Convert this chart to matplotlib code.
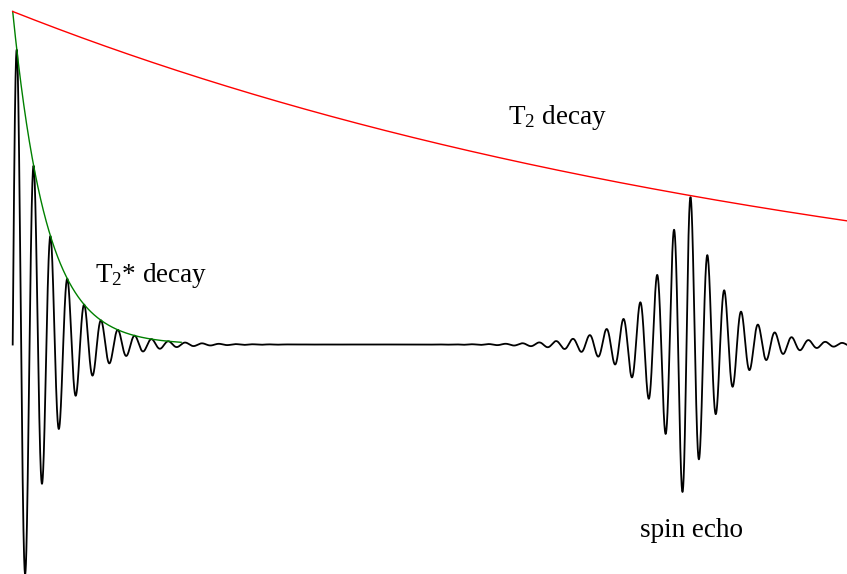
import numpy as np
import matplotlib
matplotlib.use("Agg")
import matplotlib.pyplot as plt

plt.rcParams["font.family"] = ["Liberation Serif", "DejaVu Serif"]
plt.rcParams["mathtext.fontset"] = "custom"
plt.rcParams["mathtext.rm"] = "Liberation Serif"
plt.rcParams["mathtext.it"] = "Liberation Serif:italic"

# Spin-echo parameters (time in ms, amplitude normalised to the initial signal)
t2 = 50.0          # transverse relaxation time
t2_star = 2.0      # effective dephasing time
echo_time = 40.0   # TE
freq = 1.0         # precession frequency, cycles per ms
echo_amp = 0.50    # echo envelope amplitude at TE
fid_env_end = 10.0 # extent of the drawn T2* envelope
t_max = 49.6

labels = ["T$_2$ decay", "T$_2$* decay", "spin echo"]

t = np.linspace(0.0, t_max, 40000)
fid = np.exp(-t / t2_star) * np.sin(2 * np.pi * freq * t)
echo = echo_amp * np.exp(-np.abs(t - echo_time) / t2_star) * np.sin(2 * np.pi * freq * (t - echo_time))
signal = fid + echo

t2_env = np.exp(-t / t2)
tg = t[t <= fid_env_end]
t2s_env = np.exp(-tg / t2_star)

fig = plt.figure(figsize=(8.47, 5.74), dpi=100)
ax = fig.add_axes([0, 0, 1, 1])
ax.set_xlim(-0.754, 49.53)
ax.set_ylim(-0.689, 1.0345)
ax.axis("off")

ax.plot(t, signal, color="black", lw=1.3, solid_joinstyle="round")
ax.plot(tg, t2s_env, color="#008000", lw=1.0)
ax.plot(t, t2_env, color="#ff0000", lw=1.0)

W, H = 847.0, 574.0
fs = 19.5
fig.text(508 / W, 1 - 124.3 / H, labels[0], fontsize=fs, ha="left", va="baseline")
fig.text(95 / W, 1 - 281.7 / H, labels[1], fontsize=fs, ha="left", va="baseline")
fig.text(640 / W, 1 - 536.7 / H, labels[2], fontsize=fs, ha="left", va="baseline")

fig.savefig("out.png", dpi=100)
